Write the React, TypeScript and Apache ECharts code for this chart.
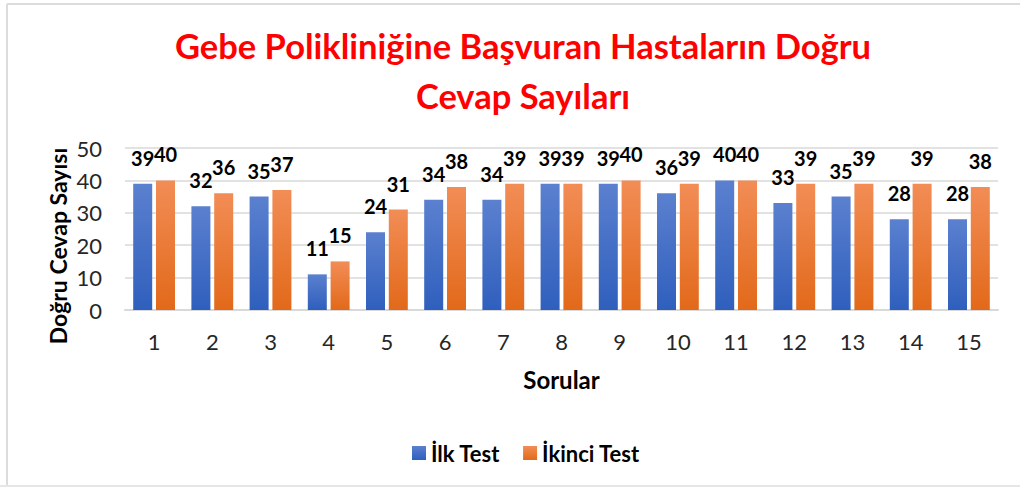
import React, { useEffect, useRef } from "react";
import * as echarts from "echarts";

const titleText = "Gebe Polikliniğine Başvuran Hastaların Doğru\nCevap Sayıları";
const categories = ["1", "2", "3", "4", "5", "6", "7", "8", "9", "10", "11", "12", "13", "14", "15"];
const ilkTest = [39, 32, 35, 11, 24, 34, 34, 39, 39, 36, 40, 33, 35, 28, 28];
const ikinciTest = [40, 36, 37, 15, 31, 38, 39, 39, 40, 39, 40, 39, 39, 39, 38];
const seriesNames = ["İlk Test", "İkinci Test"];
const yAxisName = "Doğru Cevap Sayısı";
const xAxisName = "Sorular";

const FONT = "Lato, 'Open Sans', sans-serif";

export default function App() {
  const ref = useRef<HTMLDivElement>(null);
  useEffect(() => {
    if (!ref.current) return;
    const chart = echarts.init(ref.current, undefined, { renderer: "svg" });
    const blue = new echarts.graphic.LinearGradient(0, 0, 0, 1, [
      { offset: 0, color: "#5b80cf" },
      { offset: 1, color: "#2f5fbd" },
    ]);
    const orange = new echarts.graphic.LinearGradient(0, 0, 0, 1, [
      { offset: 0, color: "#f28d56" },
      { offset: 1, color: "#e2691a" },
    ]);
    const label = {
      show: true,
      position: "top",
      distance: 16,
      fontSize: 20,
      fontWeight: "bold",
      color: "#000",
      fontFamily: FONT,
    };
    chart.setOption({
      animation: false,
      backgroundColor: "#fff",
      textStyle: { fontFamily: FONT },
      title: {
        text: titleText,
        left: 518,
        textAlign: "center",
        top: 15,
        textStyle: {
          color: "#ff0000",
          fontSize: 34.5,
          fontWeight: "bold",
          lineHeight: 50,
          fontFamily: FONT,
        },
      },
      legend: {
        data: seriesNames,
        left: 407,
        top: 437,
        itemWidth: 14,
        itemHeight: 14,
        itemGap: 23,
        icon: "rect",
        textStyle: { fontSize: 22, fontWeight: "bold", color: "#000", fontFamily: FONT },
      },
      grid: { left: 125, right: 22, top: 148, bottom: 177 },
      xAxis: {
        type: "category",
        data: categories,
        name: xAxisName,
        nameLocation: "middle",
        nameGap: 57,
        nameTextStyle: { fontSize: 24, fontWeight: "bold", color: "#000", fontFamily: FONT },
        axisLine: { lineStyle: { color: "#d9d9d9", width: 2 } },
        axisTick: { show: false },
        axisLabel: { fontSize: 22, color: "#262626", margin: 20, fontFamily: FONT },
      },
      yAxis: {
        type: "value",
        min: 0,
        max: 50,
        interval: 10,
        axisLine: { show: false },
        axisTick: { show: false },
        axisLabel: { fontSize: 22, color: "#262626", margin: 23, fontFamily: FONT },
        splitLine: { lineStyle: { color: "#d9d9d9", width: 1.5 } },
      },
      graphic: [
        {
          type: "text",
          x: 58,
          y: 246,
          rotation: Math.PI / 2,
          style: {
            text: yAxisName,
            fontSize: 23,
            fontWeight: "bold",
            fill: "#000",
            fontFamily: FONT,
            textAlign: "center",
            textVerticalAlign: "middle",
          },
        },
        { type: "line", shape: { x1: 7, y1: 4, x2: 1020, y2: 4 }, style: { stroke: "#dcdcdc", lineWidth: 2 } },
        { type: "line", shape: { x1: 7, y1: 4, x2: 7, y2: 487 }, style: { stroke: "#dcdcdc", lineWidth: 2 } },
        { type: "line", shape: { x1: 0, y1: 486, x2: 1020, y2: 486 }, style: { stroke: "#e6e6e6", lineWidth: 2 } },
      ],
      series: [
        {
          name: seriesNames[0],
          type: "bar",
          data: ilkTest,
          barWidth: 19,
          barGap: "20%",
          itemStyle: { color: blue },
          label,
        },
        {
          name: seriesNames[1],
          type: "bar",
          data: ikinciTest,
          barWidth: 19,
          barGap: "20%",
          itemStyle: { color: orange },
          label,
        },
      ],
    });
    return () => chart.dispose();
  }, []);
  return (
    <div
      ref={ref}
      style={{ position: "absolute", left: 0, top: 0, width: 1020, height: 487 }}
    />
  );
}
